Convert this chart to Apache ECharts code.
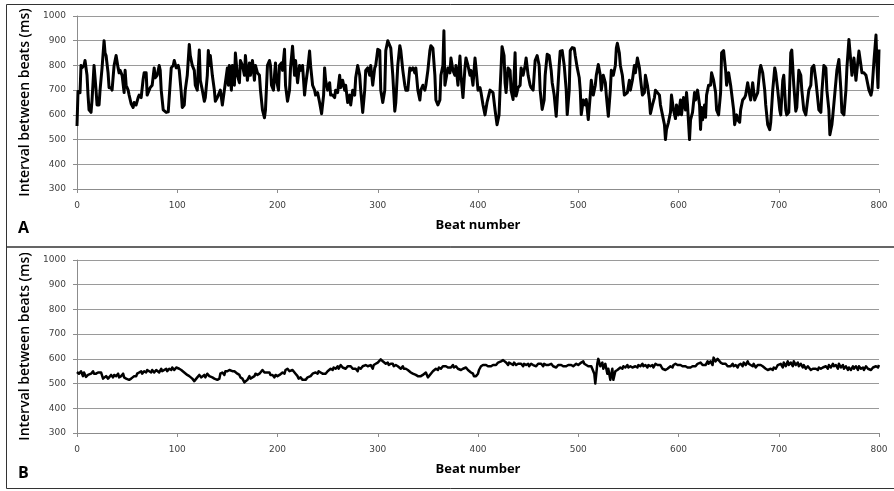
<!DOCTYPE html>
<html>
<head>
<meta charset="utf-8">
<script src="https://cdn.jsdelivr.net/npm/echarts@6/dist/echarts.min.js"></script>
<style>
html,body{margin:0;padding:0;background:#fff;}
#c{width:894px;height:491px;}
</style>
</head>
<body>
<div id="c"></div>
<script>
// Panel titles and axis texts
const panelLabels = ['A', 'B'];
const xAxisTitle = 'Beat number';
const yAxisTitle = 'Interval between beats (ms)';
const xTicks = [0, 100, 200, 300, 400, 500, 600, 700, 800];
const yTicks = [300, 400, 500, 600, 700, 800, 900, 1000];

// Panel A: [beat, interval ms]
const seriesA = [[0,555],[1,695],[2,700],[3,690],[4,800],[5,790],[7,800],[8,820],[10,760],[11,680],[12,620],[14,610],[15,660],[17,800],[18,800],[19,700],[20,640],[22,640],[23,700],[25,790],[27,900],[28,850],[29,840],[31,770],[32,710],[34,710],[35,700],[37,800],[38,820],[39,840],[41,790],[42,770],[43,780],[45,760],[47,690],[48,780],[49,720],[51,700],[52,680],[54,645],[56,630],[57,650],[59,640],[61,670],[62,680],[64,670],[66,745],[67,770],[69,770],[70,680],[72,700],[73,710],[75,720],[77,790],[78,750],[80,760],[82,800],[83,780],[84,700],[86,620],[87,612],[89,610],[91,612],[92,620],[94,790],[96,800],[97,820],[99,790],[101,800],[102,780],[104,690],[105,630],[107,640],[108,700],[110,760],[112,885],[113,840],[115,800],[117,780],[118,720],[120,700],[121,790],[122,862],[123,740],[125,700],[127,655],[128,670],[130,760],[131,860],[132,800],[133,840],[135,760],[137,700],[138,655],[140,670],[142,690],[143,700],[145,640],[147,700],[148,730],[150,790],[151,720],[152,800],[154,700],[155,800],[157,720],[158,850],[160,760],[162,730],[163,820],[165,800],[167,760],[168,840],[170,740],[172,810],[173,760],[175,820],[177,740],[178,800],[180,770],[182,760],[183,700],[185,620],[187,588],[188,620],[190,800],[192,820],[193,800],[194,720],[196,700],[197,760],[198,810],[199,740],[201,700],[202,800],[204,810],[205,780],[207,865],[208,720],[210,655],[212,700],[213,790],[215,878],[217,760],[218,820],[220,730],[222,800],[223,780],[225,800],[227,680],[228,720],[230,780],[232,858],[233,800],[235,720],[237,700],[238,680],[240,690],[242,650],[244,605],[246,680],[247,790],[248,740],[250,700],[252,730],[253,680],[255,680],[257,670],[258,700],[260,690],[262,760],[263,710],[265,740],[267,700],[268,720],[270,650],[272,680],[273,640],[275,700],[277,680],[278,750],[280,800],[282,760],[283,700],[285,610],[287,700],[288,780],[290,790],[292,760],[293,800],[295,720],[297,790],[298,800],[300,865],[302,860],[303,700],[305,650],[307,700],[308,860],[310,900],[312,880],[313,870],[315,760],[317,615],[318,650],[320,800],[322,880],[323,860],[325,780],[327,720],[328,700],[330,700],[332,790],[333,780],[335,790],[337,770],[338,790],[340,700],[342,660],[343,700],[345,720],[347,700],[348,720],[350,780],[352,860],[353,880],[355,870],[357,760],[358,660],[360,640],[362,660],[363,760],[365,800],[366,940],[367,720],[368,720],[370,790],[372,770],[373,830],[375,780],[377,760],[378,800],[380,720],[382,838],[383,760],[385,670],[387,790],[388,830],[390,800],[392,760],[393,780],[395,720],[397,830],[398,790],[400,700],[402,710],[403,690],[405,640],[407,600],[409,650],[412,700],[413,700],[415,690],[417,620],[419,560],[421,600],[422,700],[424,876],[426,840],[427,730],[428,690],[430,790],[432,780],[433,700],[435,662],[437,851],[438,676],[440,710],[442,720],[443,790],[445,760],[447,800],[448,830],[450,760],[452,720],[453,710],[455,700],[457,820],[459,840],[461,800],[462,700],[464,622],[466,660],[467,760],[469,845],[471,840],[473,780],[474,730],[476,680],[478,594],[479,660],[481,800],[482,858],[484,860],[486,800],[488,700],[489,601],[491,700],[492,860],[494,872],[496,870],[497,840],[499,790],[501,750],[502,700],[503,601],[505,660],[507,640],[508,662],[510,581],[512,680],[513,740],[515,680],[517,720],[518,760],[520,804],[522,760],[523,700],[525,760],[527,730],[528,680],[530,594],[532,700],[533,780],[535,760],[537,800],[538,870],[539,890],[541,850],[542,800],[544,760],[546,680],[547,680],[549,690],[551,740],[552,700],[554,740],[556,800],[557,770],[559,830],[561,790],[562,750],[564,680],[566,690],[567,760],[569,720],[571,660],[572,605],[574,640],[576,670],[577,700],[579,690],[581,680],[582,640],[584,600],[586,560],[587,500],[588,540],[590,570],[592,610],[593,680],[595,620],[597,585],[598,640],[600,600],[602,660],[603,600],[605,670],[607,620],[608,690],[609,640],[611,500],[612,580],[614,610],[616,690],[617,660],[619,700],[621,640],[622,541],[623,630],[624,580],[626,640],[627,590],[628,680],[630,720],[632,720],[633,770],[635,740],[637,690],[638,620],[640,600],[642,690],[643,851],[645,860],[647,780],[648,720],[650,770],[652,720],[653,720],[655,620],[656,560],[658,600],[659,580],[661,570],[662,620],[664,660],[666,670],[667,680],[669,730],[671,680],[672,660],[674,730],[676,660],[677,670],[679,690],[681,780],[682,800],[684,770],[686,700],[687,640],[689,560],[691,540],[692,570],[694,700],[696,790],[697,770],[699,700],[701,620],[702,600],[704,740],[705,760],[707,620],[708,600],[710,610],[712,851],[713,862],[715,720],[717,615],[718,630],[720,780],[722,760],[723,700],[725,620],[727,600],[728,600],[730,700],[732,720],[733,790],[735,800],[737,740],[738,700],[740,620],[742,610],[743,690],[745,800],[747,790],[748,700],[750,620],[751,520],[753,560],[754,600],[756,690],[758,780],[760,824],[762,700],[763,610],[765,600],[767,700],[768,790],[770,905],[772,810],[773,760],[775,830],[777,740],[778,780],[780,858],[782,800],[783,770],[785,770],[787,760],[788,760],[790,700],[792,680],[793,700],[795,820],[797,923],[798,800],[799,710],[800,865]];

// Panel B: [beat, interval ms]
const seriesB = [[0,547],[2,540],[4,550],[6,530],[7,545],[9,527],[11,535],[12,540],[14,540],[16,550],[17,540],[19,540],[21,545],[24,545],[26,520],[27,515],[29,530],[31,520],[32,520],[34,535],[36,525],[37,535],[39,530],[41,540],[42,525],[44,530],[46,540],[47,525],[49,520],[50,520],[52,515],[54,520],[55,525],[57,530],[59,530],[60,540],[62,545],[64,550],[65,540],[67,550],[69,545],[70,555],[72,550],[74,545],[75,555],[77,545],[79,555],[80,550],[82,545],[84,560],[85,550],[87,555],[89,560],[90,550],[92,560],[94,555],[95,565],[97,555],[99,565],[100,560],[102,560],[104,555],[105,550],[107,545],[108,540],[110,535],[112,530],[113,525],[115,520],[117,510],[118,515],[120,525],[122,535],[124,525],[125,530],[127,535],[128,525],[130,540],[132,530],[133,535],[135,525],[137,520],[138,525],[140,515],[142,520],[143,540],[145,545],[147,535],[148,550],[150,550],[152,555],[153,555],[155,550],[157,550],[158,545],[160,540],[162,535],[163,525],[165,520],[167,505],[168,510],[170,515],[172,530],[173,520],[175,525],[177,530],[178,540],[180,535],[182,540],[183,545],[185,555],[187,545],[188,550],[190,545],[192,545],[193,535],[195,535],[197,525],[198,535],[200,530],[202,535],[203,535],[205,545],[207,540],[208,555],[210,560],[212,550],[213,553],[215,555],[216,550],[218,540],[220,530],[221,520],[223,525],[225,515],[226,510],[228,515],[230,525],[231,530],[233,530],[235,540],[236,535],[238,545],[240,540],[241,550],[243,545],[245,540],[246,545],[248,540],[250,550],[251,555],[253,560],[255,555],[256,565],[258,560],[260,570],[261,560],[263,575],[265,565],[266,570],[268,560],[270,570],[271,565],[273,570],[275,560],[276,565],[278,560],[280,550],[281,565],[283,560],[285,570],[286,565],[288,575],[290,570],[291,565],[293,575],[295,560],[296,575],[298,580],[300,585],[301,590],[303,598],[305,590],[306,585],[308,580],[310,585],[311,575],[313,580],[315,580],[316,570],[318,575],[320,570],[321,565],[323,560],[325,570],[326,560],[328,560],[330,555],[331,550],[333,545],[335,540],[336,535],[338,535],[340,530],[341,535],[343,530],[345,535],[346,540],[348,545],[350,525],[351,530],[353,540],[355,550],[356,555],[358,560],[360,555],[361,565],[363,560],[365,570],[366,565],[368,570],[370,565],[371,570],[373,565],[375,575],[376,565],[378,570],[380,560],[381,565],[383,555],[385,560],[386,555],[388,565],[390,555],[391,550],[393,545],[395,540],[396,530],[398,530],[400,540],[401,555],[403,570],[405,575],[406,580],[408,575],[410,570],[411,565],[413,570],[415,575],[416,580],[418,575],[420,585],[421,580],[423,590],[425,595],[426,590],[428,585],[430,575],[431,585],[433,580],[435,575],[436,585],[438,575],[440,580],[441,575],[443,580],[445,570],[446,580],[448,575],[450,580],[451,570],[453,580],[455,575],[456,580],[458,570],[460,580],[461,575],[463,580],[465,570],[466,580],[468,575],[470,575],[471,570],[473,580],[475,570],[476,575],[478,565],[480,575],[481,570],[483,575],[485,570],[486,575],[488,570],[490,575],[491,570],[493,575],[495,570],[496,575],[498,580],[500,575],[501,580],[503,585],[505,590],[506,580],[508,575],[510,570],[511,565],[513,570],[515,550],[516,540],[517,500],[519,580],[520,600],[522,570],[524,585],[525,560],[527,580],[529,540],[530,560],[532,515],[534,560],[535,515],[537,550],[539,555],[540,560],[542,565],[544,560],[545,570],[547,565],[549,575],[550,565],[552,570],[554,565],[555,560],[557,570],[559,565],[560,575],[562,570],[564,580],[565,570],[567,575],[569,565],[570,575],[572,570],[574,575],[575,565],[577,580],[579,575],[580,570],[582,575],[584,560],[585,565],[587,555],[589,560],[590,565],[592,570],[594,565],[595,575],[597,580],[599,575],[600,580],[602,575],[604,570],[605,565],[607,570],[609,565],[610,570],[612,565],[614,570],[615,575],[617,570],[619,580],[620,575],[622,585],[624,575],[625,580],[627,575],[629,590],[630,580],[632,590],[634,575],[635,605],[637,590],[639,600],[640,595],[642,585],[644,580],[645,575],[647,580],[649,570],[650,575],[652,570],[654,580],[655,570],[657,575],[659,565],[660,575],[662,580],[664,570],[665,585],[667,575],[669,590],[670,580],[672,575],[674,570],[675,580],[677,565],[679,575],[680,570],[682,575],[684,570],[685,565],[687,560],[689,555],[690,550],[692,560],[694,555],[695,565],[697,560],[699,575],[700,570],[702,580],[704,565],[705,585],[707,570],[709,590],[710,575],[712,585],[714,570],[715,590],[717,575],[719,585],[720,570],[722,580],[724,565],[725,575],[727,560],[729,570],[730,565],[732,555],[734,560],[735,555],[737,560],[739,555],[740,565],[742,560],[744,565],[745,560],[747,570],[749,560],[750,575],[752,565],[754,580],[755,570],[757,575],[759,560],[760,580],[762,565],[764,575],[765,560],[767,570],[769,555],[770,565],[772,555],[774,570],[775,560],[777,570],[779,555],[780,570],[782,560],[784,565],[785,555],[787,570],[789,560],[790,565],[792,555],[794,565],[795,560],[797,570],[799,565],[800,575]];

const chart = echarts.init(document.getElementById('c'), null, {renderer: 'canvas'});

const labelFont = {fontFamily: 'DejaVu Sans', fontSize: 9, color: '#404040'};
const gridTops = [16, 260];

function xAxisFor(i) {
  return {
    type: 'value', gridIndex: i, min: 0, max: 800, interval: 100,
    name: xAxisTitle, nameLocation: 'middle', nameGap: 30,
    nameTextStyle: {fontFamily: 'Open Sans', fontWeight: 'bold', fontSize: 13, color: '#000'},
    axisLine: {show: true, lineStyle: {color: '#8c8c8c', width: 1}},
    axisTick: {show: true, length: 4, lineStyle: {color: '#8c8c8c'}},
    axisLabel: Object.assign({margin: 12, formatter: v => xTicks.includes(v) ? String(v) : ''}, labelFont),
    splitLine: {show: false}
  };
}
function yAxisFor(i) {
  return {
    type: 'value', gridIndex: i, min: 300, max: 1000, interval: 100,
    name: yAxisTitle, nameLocation: 'middle', nameGap: 32, nameRotate: 90,
    nameTextStyle: {fontFamily: 'Open Sans', fontWeight: 600, fontSize: 14, color: '#000'},
    axisLine: {show: true, lineStyle: {color: '#8c8c8c', width: 1}},
    axisTick: {show: true, length: 4, lineStyle: {color: '#8c8c8c'}},
    axisLabel: Object.assign({margin: 11, formatter: v => yTicks.includes(v) ? String(v) : ''}, labelFont),
    splitLine: {show: true, lineStyle: {color: '#9a9a9a', width: 1}}
  };
}

chart.setOption({
  animation: false,
  backgroundColor: '#fff',
  grid: gridTops.map(t => ({left: 77, right: 15, top: t, height: 173, containLabel: false})),
  xAxis: [xAxisFor(0), xAxisFor(1)],
  yAxis: [yAxisFor(0), yAxisFor(1)],
  series: [
    {type: 'line', xAxisIndex: 0, yAxisIndex: 0, data: seriesA, showSymbol: false, symbol: 'none',
     lineStyle: {color: '#000', width: 3, join: 'round'}, z: 5},
    {type: 'line', xAxisIndex: 1, yAxisIndex: 1, data: seriesB, showSymbol: false, symbol: 'none',
     lineStyle: {color: '#000', width: 2.5, join: 'round'}, z: 5}
  ],
  graphic: [
    {type: 'rect', shape: {x: 6.5, y: 4.5, width: 900, height: 242.5}, style: {fill: 'none', stroke: '#333', lineWidth: 1}, silent: true},
    {type: 'rect', shape: {x: 6.5, y: 247, width: 900, height: 241.5}, style: {fill: 'none', stroke: '#333', lineWidth: 1}, silent: true},
    {type: 'text', left: 18, top: 220, style: {text: panelLabels[0], fontFamily: 'Open Sans', fontWeight: 'bold', fontSize: 16, fill: '#000'}},
    {type: 'text', left: 18, top: 465, style: {text: panelLabels[1], fontFamily: 'Open Sans', fontWeight: 'bold', fontSize: 16, fill: '#000'}}
  ]
});
</script>
</body>
</html>
